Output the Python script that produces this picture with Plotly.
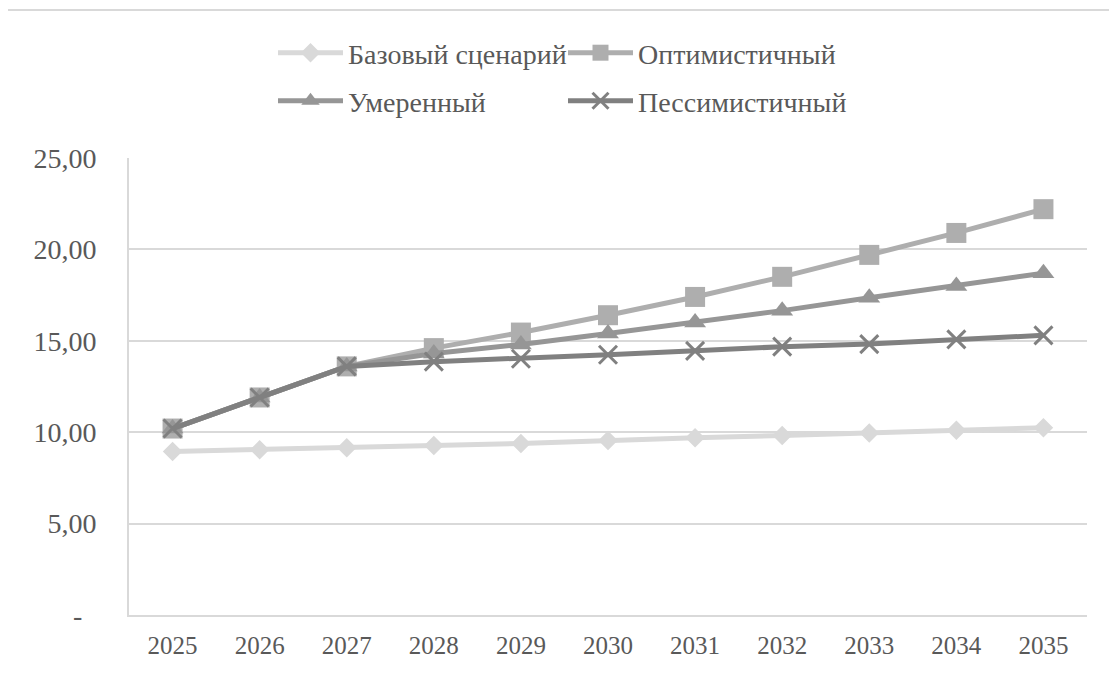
import plotly.graph_objects as go

years = ["2025", "2026", "2027", "2028", "2029", "2030", "2031", "2032", "2033", "2034", "2035"]

base = [8.95, 9.04, 9.15, 9.27, 9.38, 9.55, 9.70, 9.82, 9.95, 10.10, 10.25]
optimistic = [10.20, 11.90, 13.60, 14.60, 15.45, 16.40, 17.40, 18.50, 19.70, 20.90, 22.20]
moderate = [10.20, 11.90, 13.60, 14.30, 14.80, 15.40, 16.00, 16.65, 17.35, 18.00, 18.70]
pessimistic = [10.20, 11.90, 13.60, 13.86, 14.02, 14.24, 14.45, 14.68, 14.82, 15.08, 15.30]

y_ticks = [0, 5, 10, 15, 20, 25]
y_labels = ["-\u00a0\u00a0", "5,00", "10,00", "15,00", "20,00", "25,00"]

font = "Liberation Serif, Times New Roman, serif"
grid = "#d9d9d9"

# страница html имеет отступ 8px у body, поэтому рисунок чуть меньше окна
W, H = 1109, 665
L, T, R, B = 121, 150, 30, 58
pw, ph = W - L - R, H - T - B

fig = go.Figure()

# порядок как в оригинале: пессимистичный рисуется поверх
fig.add_trace(go.Scatter(x=years, y=base, name="Базовый сценарий", mode="lines+markers",
                         line=dict(color="#d9d9d9", width=5),
                         marker=dict(symbol="diamond", size=15, color="#d9d9d9"),
                         legend="legend"))
fig.add_trace(go.Scatter(x=years, y=optimistic, name="Оптимистичный", mode="lines+markers",
                         line=dict(color="#aeaeae", width=5),
                         marker=dict(symbol="square", size=20, color="#aeaeae"),
                         legend="legend"))
fig.add_trace(go.Scatter(x=years, y=moderate, name="Умеренный", mode="lines+markers",
                         line=dict(color="#969696", width=5),
                         marker=dict(symbol="triangle-up", size=19, color="#969696"),
                         legend="legend2"))
fig.add_trace(go.Scatter(x=years, y=pessimistic, name="Пессимистичный", mode="lines+markers",
                         line=dict(color="#808080", width=5),
                         marker=dict(symbol="x-thin-open", size=18, color="#808080",
                                     line=dict(color="#808080", width=3)),
                         legend="legend2"))

leg = dict(orientation="h", xanchor="left", yanchor="middle", x=(265 - L) / pw,
           font=dict(family=font, size=28, color="#595959"),
           entrywidth=210, itemwidth=65, bgcolor="rgba(0,0,0,0)", traceorder="normal")

fig.update_layout(
    width=W, height=H,
    margin=dict(l=L, r=R, t=T, b=B, autoexpand=False),
    paper_bgcolor="white", plot_bgcolor="white",
    showlegend=True,
    legend=dict(leg, y=(H - B - 45) / ph),
    legend2=dict(leg, y=(H - B - 93) / ph),
    xaxis=dict(type="category", range=[-0.5, 10.5], showgrid=False,
               showline=True, linecolor=grid, linewidth=2,
               tickfont=dict(family=font, size=25, color="#595959"),
               ticks="", ticklabelstandoff=7),
    yaxis=dict(range=[0, 25], tickvals=y_ticks, ticktext=y_labels,
               showgrid=True, gridcolor=grid, gridwidth=2,
               showline=True, linecolor=grid, linewidth=2, zeroline=False,
               tickfont=dict(family=font, size=28, color="#595959"),
               ticks="", ticklabelstandoff=25),
    shapes=[dict(type="rect", xref="paper", yref="paper",
                 x0=(-1 - L) / pw, x1=1.1, y0=-0.3, y1=(H - B - 2) / ph,
                 line=dict(color="#d9d9d9", width=2), layer="below")],
)

fig.write_html("out.html")
